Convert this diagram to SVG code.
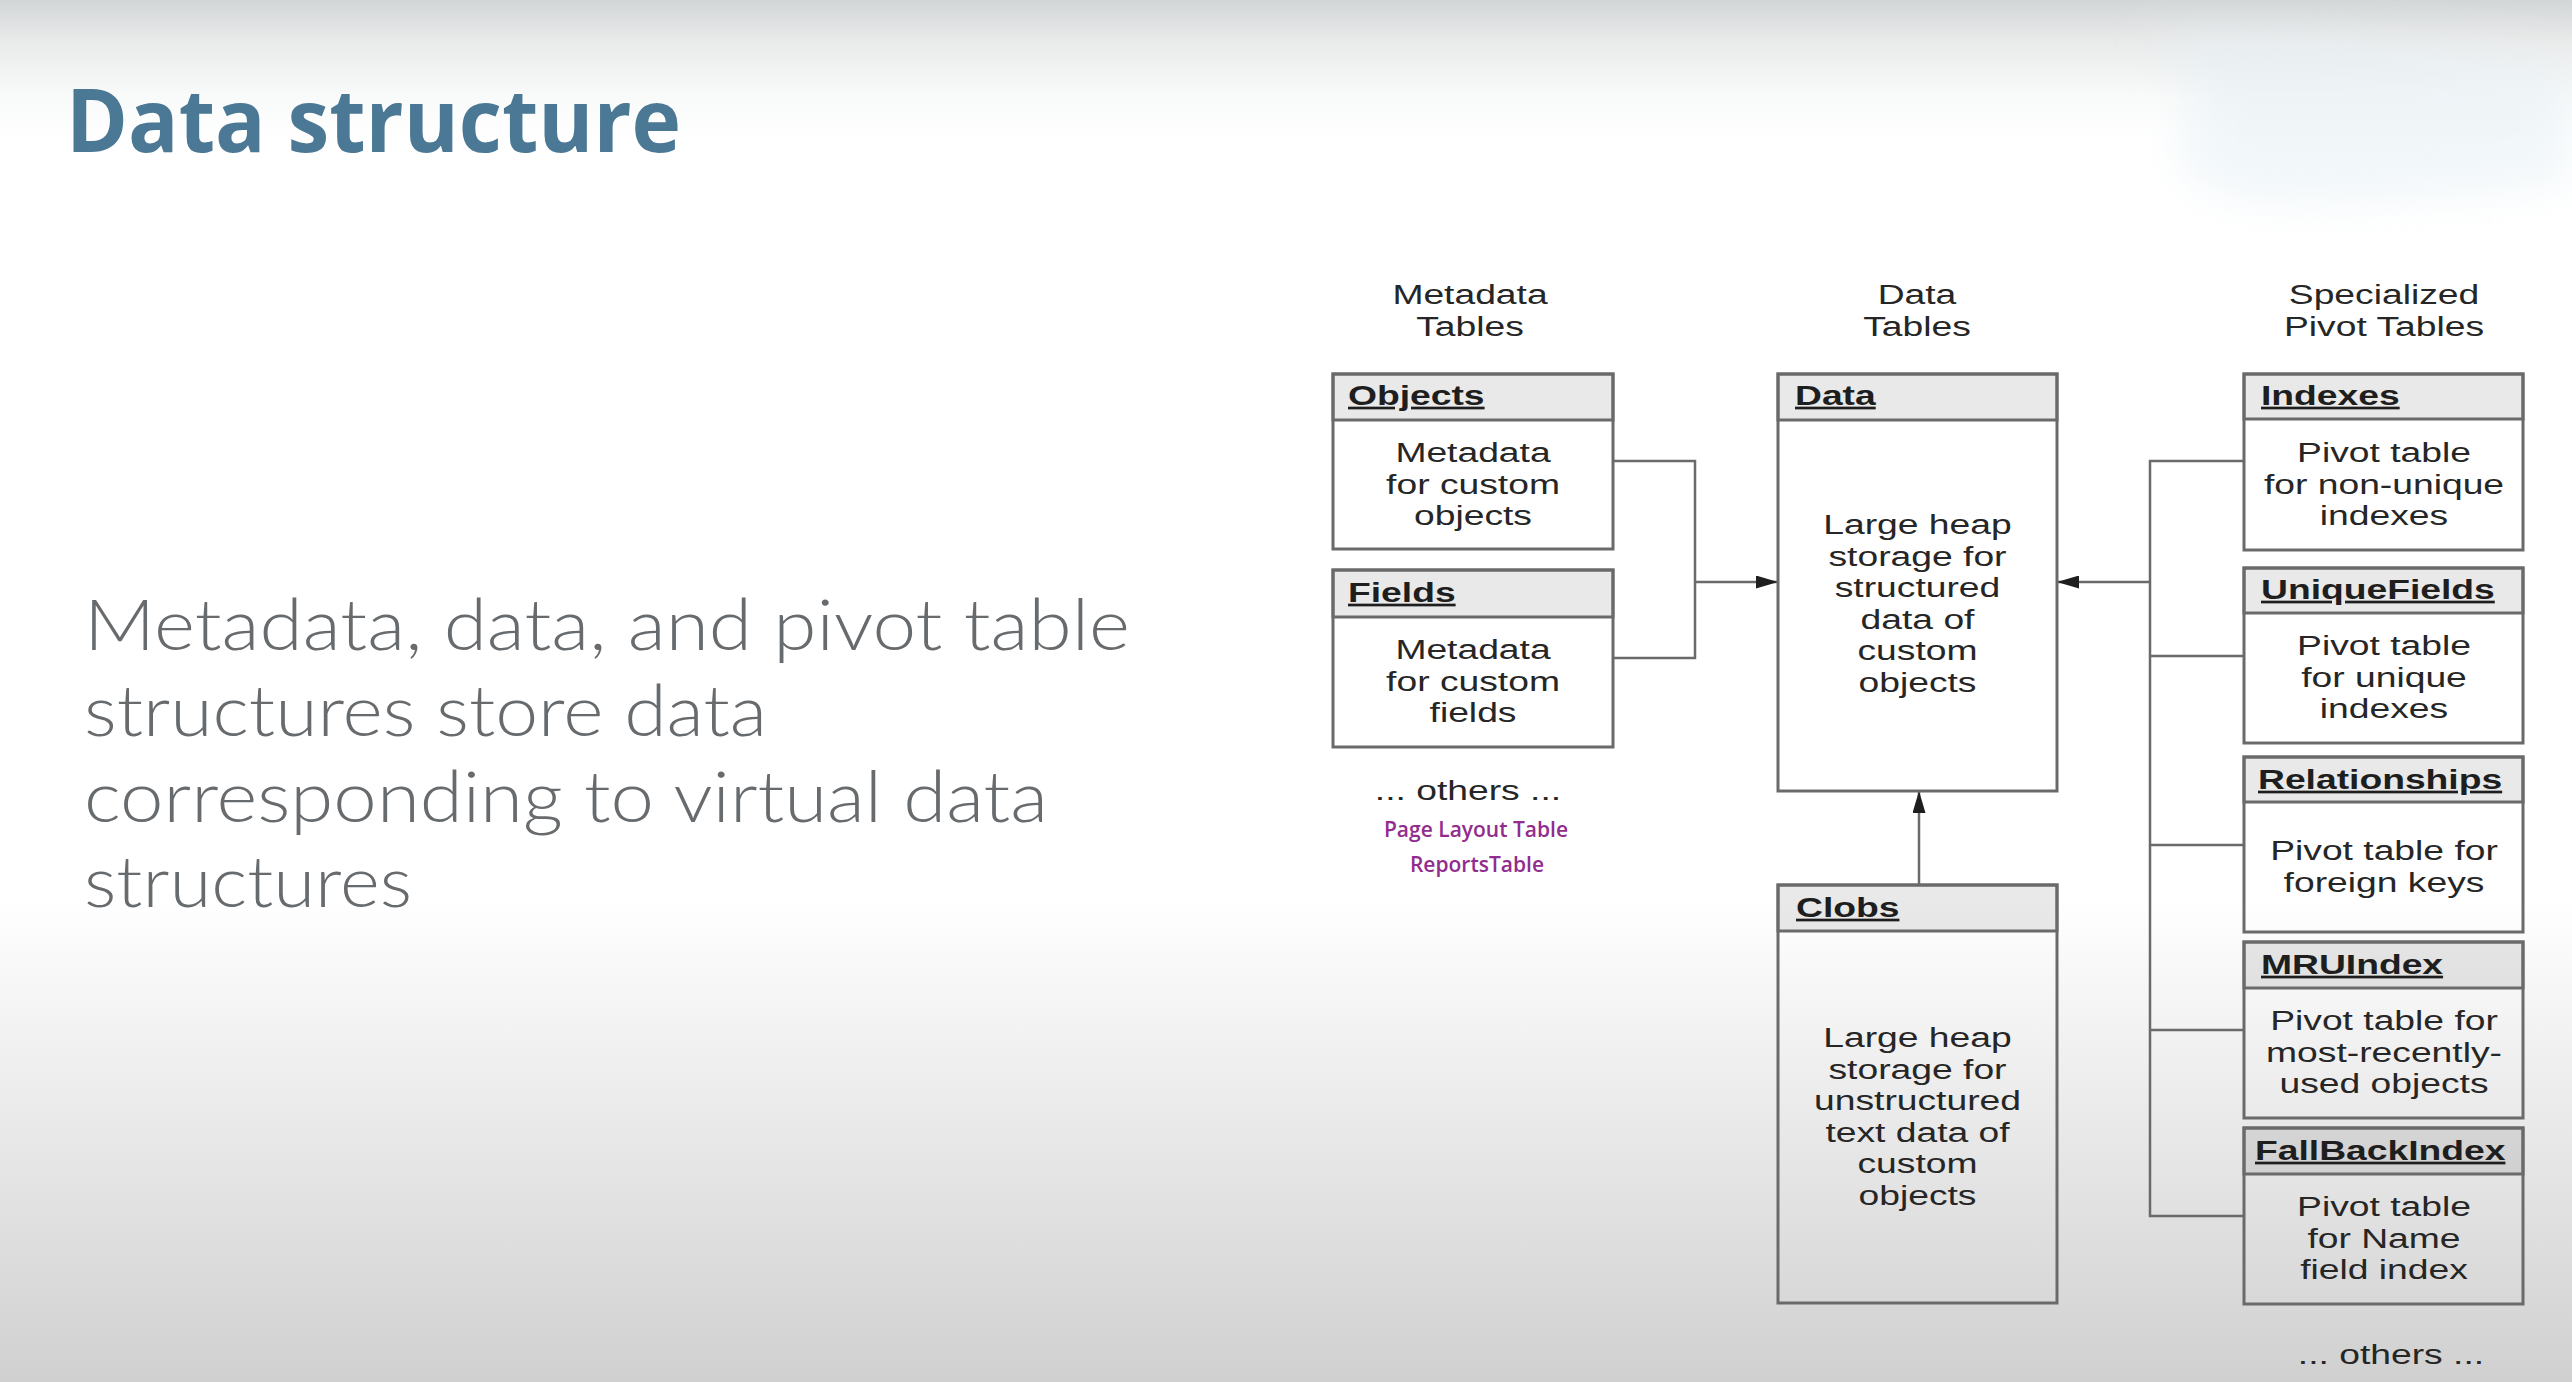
<svg xmlns="http://www.w3.org/2000/svg" width="2572" height="1382" viewBox="0 0 2572 1382">
<style>
.box{fill:none;stroke:#6a6a6a;stroke-width:3}
.hdr{fill:#000;fill-opacity:0.085;stroke:#6a6a6a;stroke-width:3}
.t{font-family:"Liberation Sans",Arial,sans-serif;font-size:27px;fill:#262626}
.c{text-anchor:middle}
.h{font-weight:bold;text-decoration:underline;fill:#1e1e1e}
.con{fill:none;stroke:#6a6a6a;stroke-width:2.5}
.purple{font-family:"Open Sans","Liberation Sans",sans-serif;font-size:21px;font-weight:600;fill:#922c8e;text-anchor:middle}
.para{font-family:Lato,"Open Sans","Liberation Sans",sans-serif;font-size:70px;font-weight:300;fill:#676b6e}
</style>
<defs>
<linearGradient id="bg" x1="0" y1="0" x2="0" y2="1">
<stop offset="0" stop-color="#d3d6d7"/>
<stop offset="0.03" stop-color="#e9eaea"/>
<stop offset="0.07" stop-color="#f9fafa"/>
<stop offset="0.1" stop-color="#ffffff"/>
<stop offset="0.65" stop-color="#ffffff"/>
<stop offset="0.8" stop-color="#ebebeb"/>
<stop offset="1" stop-color="#d0d0d0"/>
</linearGradient>
<filter id="blur" x="-30%" y="-80%" width="160%" height="260%"><feGaussianBlur stdDeviation="22"/></filter>
<marker id="arr" viewBox="0 0 10 10" refX="10" refY="5" markerWidth="22" markerHeight="13" markerUnits="userSpaceOnUse" orient="auto" preserveAspectRatio="none">
<path d="M0,0 L10,5 L0,10 z" fill="#1e1e1e"/>
</marker>
</defs>
<rect x="0" y="0" width="2572" height="1382" fill="url(#bg)"/>
<path d="M2150,40 C2220,25 2320,30 2430,45 C2500,55 2572,65 2572,65 L2572,180 C2480,195 2350,205 2260,200 C2190,195 2160,150 2190,115 C2205,90 2180,65 2150,40 z" fill="#e6f0f4" opacity="0.55" filter="url(#blur)"/>

<g id="title">
<text x="66" y="152" font-family="'Open Sans','Liberation Sans',sans-serif" font-size="88" font-weight="700" fill="#4b7894" textLength="615" lengthAdjust="spacingAndGlyphs">Data structure</text>
</g>

<g id="paragraph">
<text class="para" x="84" y="650" textLength="1046" lengthAdjust="spacingAndGlyphs">Metadata, data, and pivot table</text>
<text class="para" x="84" y="736" textLength="683" lengthAdjust="spacingAndGlyphs">structures store data</text>
<text class="para" x="84" y="822" textLength="964" lengthAdjust="spacingAndGlyphs">corresponding to virtual data</text>
<text class="para" x="84" y="907" textLength="328" lengthAdjust="spacingAndGlyphs">structures</text>
</g>

<g id="column-headings">
<text class="t c" transform="translate(1470 304) scale(1.38 1)">Metadata</text>
<text class="t c" transform="translate(1470 336) scale(1.38 1)">Tables</text>
<text class="t c" transform="translate(1917 304) scale(1.38 1)">Data</text>
<text class="t c" transform="translate(1917 336) scale(1.38 1)">Tables</text>
<text class="t c" transform="translate(2384 304) scale(1.38 1)">Specialized</text>
<text class="t c" transform="translate(2384 336) scale(1.38 1)">Pivot Tables</text>
</g>

<g id="connectors">
<path class="con" d="M1613,461 H1695 V658 H1613"/>
<line class="con" x1="1695" y1="582" x2="1778" y2="582" marker-end="url(#arr)"/>
<path class="con" d="M2244,461 H2150 V1216 H2244"/>
<line class="con" x1="2150" y1="656" x2="2244" y2="656"/>
<line class="con" x1="2150" y1="845" x2="2244" y2="845"/>
<line class="con" x1="2150" y1="1030" x2="2244" y2="1030"/>
<line class="con" x1="2150" y1="582" x2="2057" y2="582" marker-end="url(#arr)"/>
<line class="con" x1="1919" y1="885" x2="1919" y2="791" marker-end="url(#arr)"/>
</g>

<g id="objects">
<rect class="hdr" x="1333" y="374" width="280" height="46"/>
<rect class="box" x="1333" y="374" width="280" height="175"/>
<text class="t h" transform="translate(1348 405) scale(1.38 1)">Objects</text>
<text class="t c" transform="translate(1473 462) scale(1.38 1)">Metadata</text>
<text class="t c" transform="translate(1473 493.5) scale(1.38 1)">for custom</text>
<text class="t c" transform="translate(1473 525) scale(1.38 1)">objects</text>
</g>

<g id="fields">
<rect class="hdr" x="1333" y="570" width="280" height="47"/>
<rect class="box" x="1333" y="570" width="280" height="177"/>
<text class="t h" transform="translate(1348 602) scale(1.38 1)">Fields</text>
<text class="t c" transform="translate(1473 659) scale(1.38 1)">Metadata</text>
<text class="t c" transform="translate(1473 690.5) scale(1.38 1)">for custom</text>
<text class="t c" transform="translate(1473 722) scale(1.38 1)">fields</text>
</g>

<g id="metadata-others">
<text class="t c" transform="translate(1468 800) scale(1.38 1)">... others ...</text>
<text class="purple" x="1476" y="837">Page Layout Table</text>
<text class="purple" x="1477" y="872">ReportsTable</text>
</g>

<g id="data">
<rect class="hdr" x="1778" y="374" width="279" height="46"/>
<rect class="box" x="1778" y="374" width="279" height="417"/>
<text class="t h" transform="translate(1795 405) scale(1.38 1)">Data</text>
<text class="t c" transform="translate(1917.5 534) scale(1.38 1)">Large heap</text>
<text class="t c" transform="translate(1917.5 565.5) scale(1.38 1)">storage for</text>
<text class="t c" transform="translate(1917.5 597) scale(1.38 1)">structured</text>
<text class="t c" transform="translate(1917.5 628.5) scale(1.38 1)">data of</text>
<text class="t c" transform="translate(1917.5 660) scale(1.38 1)">custom</text>
<text class="t c" transform="translate(1917.5 691.5) scale(1.38 1)">objects</text>
</g>

<g id="clobs">
<rect class="hdr" x="1778" y="885" width="279" height="46"/>
<rect class="box" x="1778" y="885" width="279" height="418"/>
<text class="t h" transform="translate(1796 917) scale(1.38 1)">Clobs</text>
<text class="t c" transform="translate(1917.5 1047) scale(1.38 1)">Large heap</text>
<text class="t c" transform="translate(1917.5 1078.5) scale(1.38 1)">storage for</text>
<text class="t c" transform="translate(1917.5 1110) scale(1.38 1)">unstructured</text>
<text class="t c" transform="translate(1917.5 1141.5) scale(1.38 1)">text data of</text>
<text class="t c" transform="translate(1917.5 1173) scale(1.38 1)">custom</text>
<text class="t c" transform="translate(1917.5 1204.5) scale(1.38 1)">objects</text>
</g>

<g id="indexes">
<rect class="hdr" x="2244" y="374" width="279" height="45"/>
<rect class="box" x="2244" y="374" width="279" height="176"/>
<text class="t h" transform="translate(2261 405) scale(1.38 1)">Indexes</text>
<text class="t c" transform="translate(2384 462) scale(1.38 1)">Pivot table</text>
<text class="t c" transform="translate(2384 493.5) scale(1.38 1)">for non-unique</text>
<text class="t c" transform="translate(2384 525) scale(1.38 1)">indexes</text>
</g>

<g id="uniquefields">
<rect class="hdr" x="2244" y="568" width="279" height="45"/>
<rect class="box" x="2244" y="568" width="279" height="175"/>
<text class="t h" transform="translate(2261 599) scale(1.38 1)">UniqueFields</text>
<text class="t c" transform="translate(2384 655) scale(1.38 1)">Pivot table</text>
<text class="t c" transform="translate(2384 686.5) scale(1.38 1)">for unique</text>
<text class="t c" transform="translate(2384 718) scale(1.38 1)">indexes</text>
</g>

<g id="relationships">
<rect class="hdr" x="2244" y="757" width="279" height="45"/>
<rect class="box" x="2244" y="757" width="279" height="175"/>
<text class="t h" transform="translate(2258 789) scale(1.38 1)">Relationships</text>
<text class="t c" transform="translate(2384 860) scale(1.38 1)">Pivot table for</text>
<text class="t c" transform="translate(2384 891.5) scale(1.38 1)">foreign keys</text>
</g>

<g id="mruindex">
<rect class="hdr" x="2244" y="942" width="279" height="46"/>
<rect class="box" x="2244" y="942" width="279" height="176"/>
<text class="t h" transform="translate(2261 974) scale(1.38 1)">MRUIndex</text>
<text class="t c" transform="translate(2384 1030) scale(1.38 1)">Pivot table for</text>
<text class="t c" transform="translate(2384 1061.5) scale(1.38 1)">most-recently-</text>
<text class="t c" transform="translate(2384 1093) scale(1.38 1)">used objects</text>
</g>

<g id="fallbackindex">
<rect class="hdr" x="2244" y="1128" width="279" height="46"/>
<rect class="box" x="2244" y="1128" width="279" height="176"/>
<text class="t h" transform="translate(2255 1160) scale(1.38 1)">FallBackIndex</text>
<text class="t c" transform="translate(2384 1216) scale(1.38 1)">Pivot table</text>
<text class="t c" transform="translate(2384 1247.5) scale(1.38 1)">for Name</text>
<text class="t c" transform="translate(2384 1279) scale(1.38 1)">field index</text>
</g>

<g id="pivot-others">
<text class="t c" transform="translate(2391 1364) scale(1.38 1)">... others ...</text>
</g>
</svg>
